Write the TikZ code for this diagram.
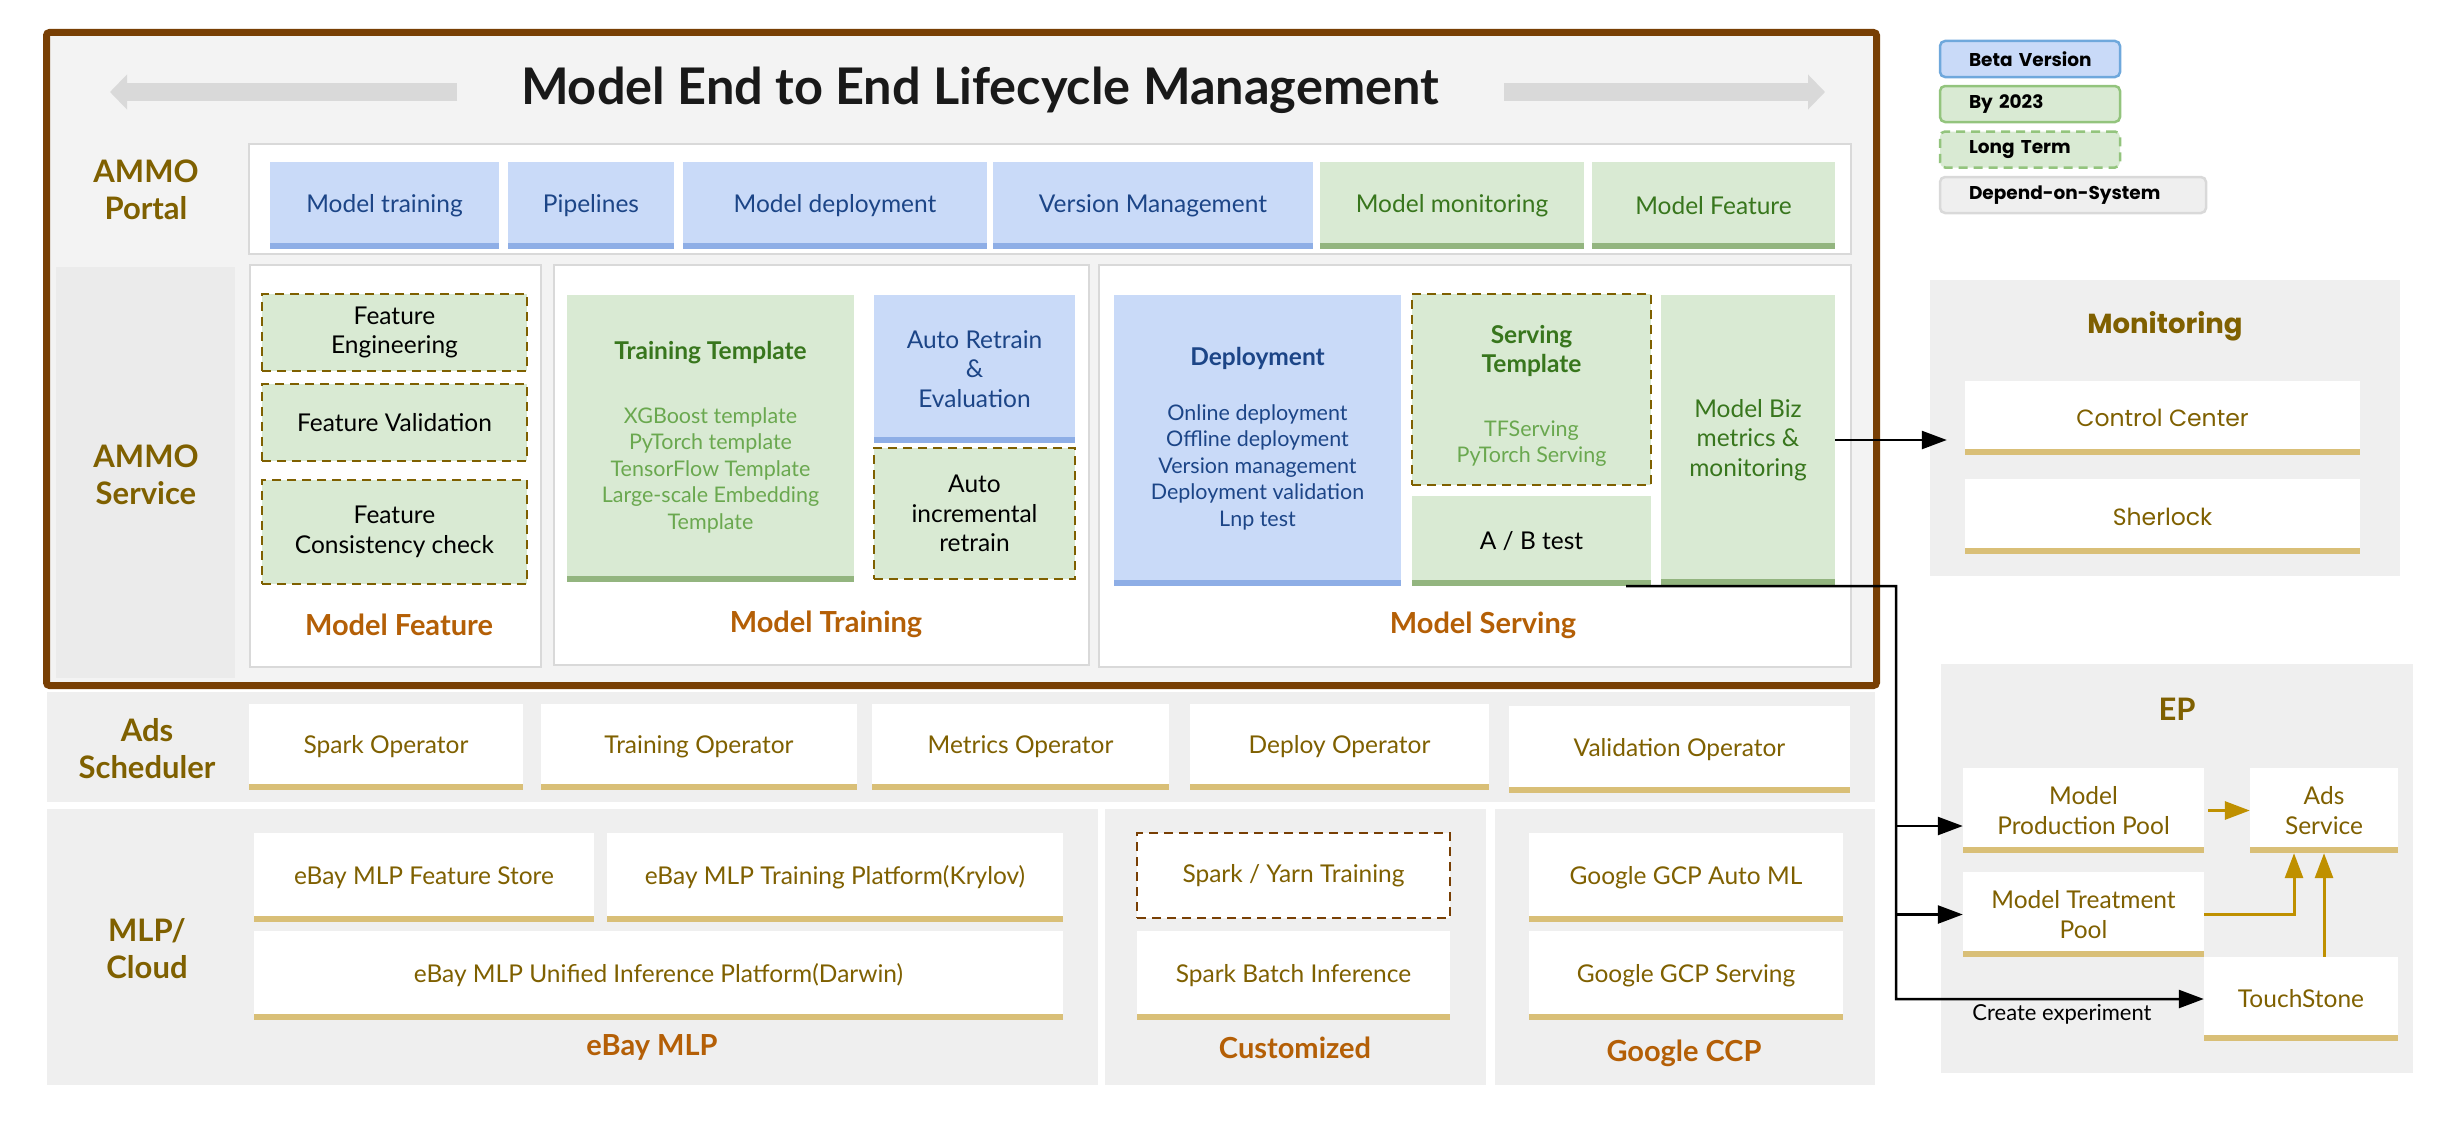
\documentclass[tikz,border=0pt]{standalone}
\usepackage{fontspec}
\setmainfont{Lato}
\newfontfamily\geofont{Poppins}
\usetikzlibrary{arrows.meta}

\definecolor{brownframe}{HTML}{783F04}
\definecolor{framebg}{HTML}{F3F3F3}
\definecolor{panelbg}{HTML}{EFEFEF}
\definecolor{svcbg}{HTML}{EBEBEB}
\definecolor{edgegrey}{HTML}{D9D9D9}
\definecolor{bluefill}{HTML}{C9DAF8}
\definecolor{bluebar}{HTML}{8EAEE6}
\definecolor{bluetxt}{HTML}{1C4587}
\definecolor{greenfill}{HTML}{D9EAD3}
\definecolor{greenbar}{HTML}{93B57F}
\definecolor{greentxt}{HTML}{38761D}
\definecolor{lightgreentxt}{HTML}{6AA84F}
\definecolor{olive}{HTML}{7F6000}
\definecolor{goldbar}{HTML}{D9BF77}
\definecolor{orangetxt}{HTML}{B45F06}
\definecolor{goldarrow}{HTML}{BF9000}
\definecolor{arrowgrey}{HTML}{D9D9D9}
\definecolor{legblue}{HTML}{6FA8DC}
\definecolor{leggreen}{HTML}{93C47D}

\newcommand{\boxfnt}{\fontsize{24.5}{29.5}\selectfont}
\newcommand{\listfnt}{\fontsize{21.5}{26.5}\selectfont}
\newcommand{\sidefnt}{\fontsize{31}{37}\selectfont\bfseries}
\newcommand{\secfnt}{\fontsize{29}{32}\selectfont\bfseries}
\newcommand{\titlefnt}{\fontsize{50.5}{54}\selectfont\bfseries}
\newcommand{\geofnt}{\geofont\fontsize{23.5}{27}\selectfont}
\newcommand{\legfnt}{\geofont\bfseries\fontsize{18.5}{22}\selectfont}

\tikzset{
  sz/.style 2 args={minimum width=#1pt, minimum height=#2pt},
  botbar/.style={path picture={\fill[#1] (path picture bounding box.south west)
      rectangle ([yshift=6pt]path picture bounding box.south east);}},
  bluebox/.style={fill=bluefill, text=bluetxt, botbar=bluebar, inner sep=0pt, align=center, font=\boxfnt},
  greenbox/.style={fill=greenfill, text=greentxt, botbar=greenbar, inner sep=0pt, align=center, font=\boxfnt},
  dashbox/.style={fill=greenfill, draw=olive, line width=2.5pt, dash pattern=on 9pt off 6pt,
      inner sep=0pt, align=center, font=\boxfnt},
  goldbox/.style={fill=white, text=olive, botbar=goldbar, inner sep=0pt, align=center, font=\boxfnt},
  panel/.style={fill=white, draw=edgegrey, line width=2.5pt, inner sep=0pt},
  listtxt/.style={align=center, font=\listfnt},
  sidelbl/.style={text=olive, align=center, font=\sidefnt},
  seclbl/.style={text=orangetxt, font=\secfnt},
  legbox/.style={rounded corners=5pt, line width=2.5pt, inner xsep=8pt, minimum height=36pt,
      align=left, font=\legfnt, execute at begin node=\hspace*{21pt}},
  conn/.style={line width=2.5pt, -{Triangle[length=25pt,width=18pt]}},
  goldconn/.style={goldarrow, line width=3pt, -{Triangle[length=25pt,width=18pt]}}
}

\begin{document}
\begin{tikzpicture}[x=1pt,y=-1pt]
\useasboundingbox (0,0) rectangle (2464,1124);

% lower layers and side groups
\fill[panelbg] (47,692) rectangle (1875,802);
\fill[panelbg] (47,809) rectangle (1098,1085);
\fill[panelbg] (1105,809) rectangle (1486,1085);
\fill[panelbg] (1495,809) rectangle (1875,1085);
\fill[panelbg] (1930,280) rectangle (2400,576);
\fill[panelbg] (1941,664) rectangle (2413,1073);

% AMMO frame
\draw[brownframe, fill=framebg, line width=7pt, rounded corners=3pt] (46.5,32.5) rectangle (1876.5,685.5);
\fill[svcbg] (56,267) rectangle (235,678);

\node[font=\titlefnt, text=black!90] (title) at (980,90) {Model End to End Lifecycle Management};
\draw[arrowgrey, line width=18pt, -{Triangle[length=17pt,width=34pt]}] (457,92) -- (110,92);
\draw[arrowgrey, line width=18pt, -{Triangle[length=17pt,width=34pt]}] (1504,92) -- (1825,92);

\node[sidelbl] (portallbl) at (146,190) {AMMO\\Portal};
\node[sidelbl] (servicelbl) at (146,475) {AMMO\\Service};

% portal
\node[panel, sz={1602}{110}] (portal) at (1050,199) {};
\node[bluebox, sz={229}{87}] (ptrain) at (384.5,205.5) {Model training};
\node[bluebox, sz={166}{87}] (ppipe) at (591,205.5) {Pipelines};
\node[bluebox, sz={304}{87}] (pdeploy) at (835,205.5) {Model deployment};
\node[bluebox, sz={320}{87}] (pversion) at (1153,205.5) {Version Management};
\node[greenbox, sz={264}{87}] (pmonitor) at (1452,205.5) {Model monitoring};
\node[greenbox, sz={243}{87}] (pfeature) at (1713.5,205.5) {Model Feature};

% service panels
\node[panel, sz={291}{402}] (featpanel) at (395.5,466) {};
\node[panel, sz={535}{400}] (trainpanel) at (821.5,465) {};
\node[panel, sz={752}{402}] (servpanel) at (1475,466) {};

\node[dashbox, sz={265}{77}] (feng) at (394.5,332.5) {Feature\\Engineering};
\node[dashbox, sz={265}{77}] (fval) at (394.5,422.5) {Feature Validation};
\node[dashbox, sz={265}{104}] (fcons) at (394.5,532) {Feature\\Consistency check};
\node[seclbl] (featlbl) at (399,625) {Model Feature};

\node[greenbox, sz={287}{287}] (ttbox) at (710.5,438.5) {};
\node[font=\boxfnt\bfseries, text=greentxt] (tttitle) at (710.5,353) {Training Template};
\node[listtxt, text=lightgreentxt] (ttlist) at (710.5,470) {XGBoost template\\PyTorch template\\TensorFlow Template\\Large-scale Embedding\\Template};
\node[bluebox, sz={201}{148}] (retrain) at (974.5,369) {Auto Retrain\\\&\\Evaluation};
\node[dashbox, sz={201}{131}] (incr) at (974.5,513.5) {Auto\\incremental\\retrain};
\node[seclbl] (trainlbl) at (826,624) {Model Training};

\node[bluebox, sz={287}{291}] (depbox) at (1257.5,440.5) {};
\node[font=\boxfnt\bfseries, text=bluetxt] (deptitle) at (1257.5,358) {Deployment};
\node[listtxt, text=bluetxt] (deplist) at (1257.5,467) {Online deployment\\Offline deployment\\Version management\\Deployment validation\\Lnp test};
\node[dashbox, sz={239}{191}] (stbox) at (1531.5,389.5) {};
\node[font=\boxfnt\bfseries, text=greentxt, align=center] (sttitle) at (1531.5,351) {Serving\\Template};
\node[listtxt, text=lightgreentxt] (stlist) at (1531.5,443.5) {TFServing\\PyTorch Serving};
\node[greenbox, text=black, sz={239}{90}] (abtest) at (1531.5,541) {A / B test};
\node[greenbox, sz={174}{290}] (bizmon) at (1748,440) {Model Biz\\metrics \&\\monitoring};
\node[seclbl] (servlbl) at (1483,625) {Model Serving};

% scheduler
\node[sidelbl] (schedlbl) at (147,749) {Ads\\Scheduler};
\node[goldbox, sz={274}{86}] (sparkop) at (386,747) {Spark Operator};
\node[goldbox, sz={316}{86}] (trainop) at (699,747) {Training Operator};
\node[goldbox, sz={297}{86}] (metricop) at (1020.5,747) {Metrics Operator};
\node[goldbox, sz={299}{86}] (deployop) at (1339.5,747) {Deploy Operator};
\node[goldbox, sz={341}{87}] (validop) at (1679.5,749.5) {Validation Operator};

% MLP / cloud
\node[sidelbl] (cloudlbl) at (147,949) {MLP/\\Cloud};
\node[goldbox, sz={340}{89}] (featstore) at (424,877.5) {eBay MLP Feature Store};
\node[goldbox, sz={456}{89}] (krylov) at (835,877.5) {eBay MLP Training Platform(Krylov)};
\node[goldbox, sz={809}{89}] (darwin) at (658.5,975.5) {eBay MLP Unified Inference Platform(Darwin)};
\node[seclbl] (mlplbl) at (652,1047) {eBay MLP};
\node[fill=white, draw=brownframe, line width=2.5pt, dash pattern=on 9pt off 6pt, text=olive,
  font=\boxfnt, sz={313}{85}] (yarn) at (1293.5,875.5) {Spark / Yarn Training};
\node[goldbox, sz={313}{89}] (batch) at (1293.5,975.5) {Spark Batch Inference};
\node[seclbl] (custlbl) at (1295,1048) {Customized};
\node[goldbox, sz={314}{89}] (automl) at (1686,877.5) {Google GCP Auto ML};
\node[goldbox, sz={314}{89}] (gcpserv) at (1686,975.5) {Google GCP Serving};
\node[seclbl] (googlbl) at (1684,1053) {Google CCP};

% legend
\node[legbox, fill=bluefill, draw=legblue, text width=164pt] (legbeta) at (2030,59) {Beta Version};
\node[legbox, fill=greenfill, draw=leggreen, text width=164pt] (leg2023) at (2030,104) {By 2023};
\node[legbox, fill=greenfill, draw=leggreen, dash pattern=on 9pt off 6pt, text width=164pt] (leglong) at (2030,149.5) {Long Term};
\node[legbox, fill=panelbg, draw=edgegrey, text width=250pt] (legdep) at (2073,195) {Depend-on-System};

% monitoring
\node[text=olive, font=\geofont\bfseries\fontsize{27.5}{30}\selectfont] (montitle) at (2165,326) {Monitoring};
\node[goldbox, font=\geofnt, sz={395}{74}] (ctrl) at (2162.5,418) {Control Center};
\node[goldbox, font=\geofnt, sz={395}{75}] (sherlock) at (2162.5,516.5) {Sherlock};

% EP
\node[sidelbl] (eptitle) at (2177,709) {EP};
\node[goldbox, sz={241}{85}] (prodpool) at (2083.5,810.5) {Model\\Production Pool};
\node[goldbox, sz={148}{85}] (adssvc) at (2324,810.5) {Ads\\Service};
\node[goldbox, sz={241}{85}] (treatpool) at (2083.5,914.5) {Model Treatment\\Pool};
\node[goldbox, sz={194}{84}] (touch) at (2301,999) {TouchStone};

% connectors
\coordinate (trunk) at (1896,586);
\coordinate (prodin) at ([yshift=-15.5pt]prodpool.west);
\draw[conn, shorten >=18pt] (bizmon.east) -- (bizmon.east -| ctrl.west);
\draw[conn] ([xshift=-25pt]abtest.south east) -- (trunk) |- (touch.west);
\draw[conn] (trunk |- treatpool.west) -- (treatpool.west);
\draw[conn] (trunk |- prodin) -- (prodin);
\node[font=\fontsize{22}{26}\selectfont] (explbl) at (2062,1014) {Create experiment};

\draw[goldconn] ([xshift=4pt]prodpool.east) -- (adssvc.west);
\draw[goldconn] (treatpool.east) -| ([xshift=-30pt]adssvc.south);
\draw[goldconn] (adssvc.south |- touch.north) -- (adssvc.south);
\end{tikzpicture}
\end{document}
